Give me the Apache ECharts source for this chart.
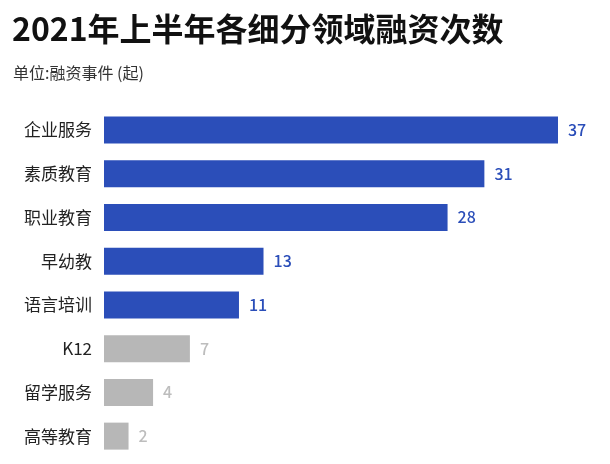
<!DOCTYPE html>
<html>
<head>
<meta charset="utf-8">
<script src="https://cdn.jsdelivr.net/npm/echarts@6/dist/echarts.min.js"></script>
<style>html,body{margin:0;padding:0;background:#fff}#c{width:610px;height:464px}</style>
</head>
<body>
<div id="c"></div>
<script>
const titleText = '2021年上半年各细分领域融资次数';
const subtitleText = '单位:融资事件 (起)';
const categories = ['企业服务', '素质教育', '职业教育', '早幼教', '语言培训', 'K12', '留学服务', '高等教育'];
const values = [37, 31, 28, 13, 11, 7, 4, 2];
const highlighted = [true, true, true, true, true, false, false, false];

const BLUE = '#2B4EB9';
const GRAY = '#B7B7B7';
const GRAY_LABEL = '#BDBDBD';
const FONT = '"Noto Sans CJK SC", "Noto Sans", sans-serif';

const chart = echarts.init(document.getElementById('c'), null, {renderer: 'canvas'});
chart.setOption({
  backgroundColor: '#fff',
  animation: false,
  title: [
    {text: titleText, left: 7, top: 8, textStyle: {fontFamily: FONT, fontSize: 32, fontWeight: 'bold', color: '#111'}},
    {text: subtitleText, left: 8, top: 60, textStyle: {fontFamily: FONT, fontSize: 16, fontWeight: 'normal', color: '#333'}}
  ],
  grid: {left: 104, right: 52, top: 108, height: 350, containLabel: false},
  xAxis: {type: 'value', min: 0, max: 37, show: false},
  yAxis: {
    type: 'category', data: categories, inverse: true,
    axisLine: {show: false}, axisTick: {show: false}, splitLine: {show: false},
    axisLabel: {margin: 12, fontFamily: FONT, fontSize: 17, color: '#222'}
  },
  series: [{
    type: 'bar',
    barWidth: 27,
    data: values.map((v, i) => ({
      value: v,
      itemStyle: {color: highlighted[i] ? BLUE : GRAY},
      label: {color: highlighted[i] ? BLUE : GRAY_LABEL}
    })),
    label: {show: true, position: 'right', distance: 10, fontFamily: FONT, fontSize: 16, fontWeight: 500}
  }]
});
</script>
</body>
</html>
